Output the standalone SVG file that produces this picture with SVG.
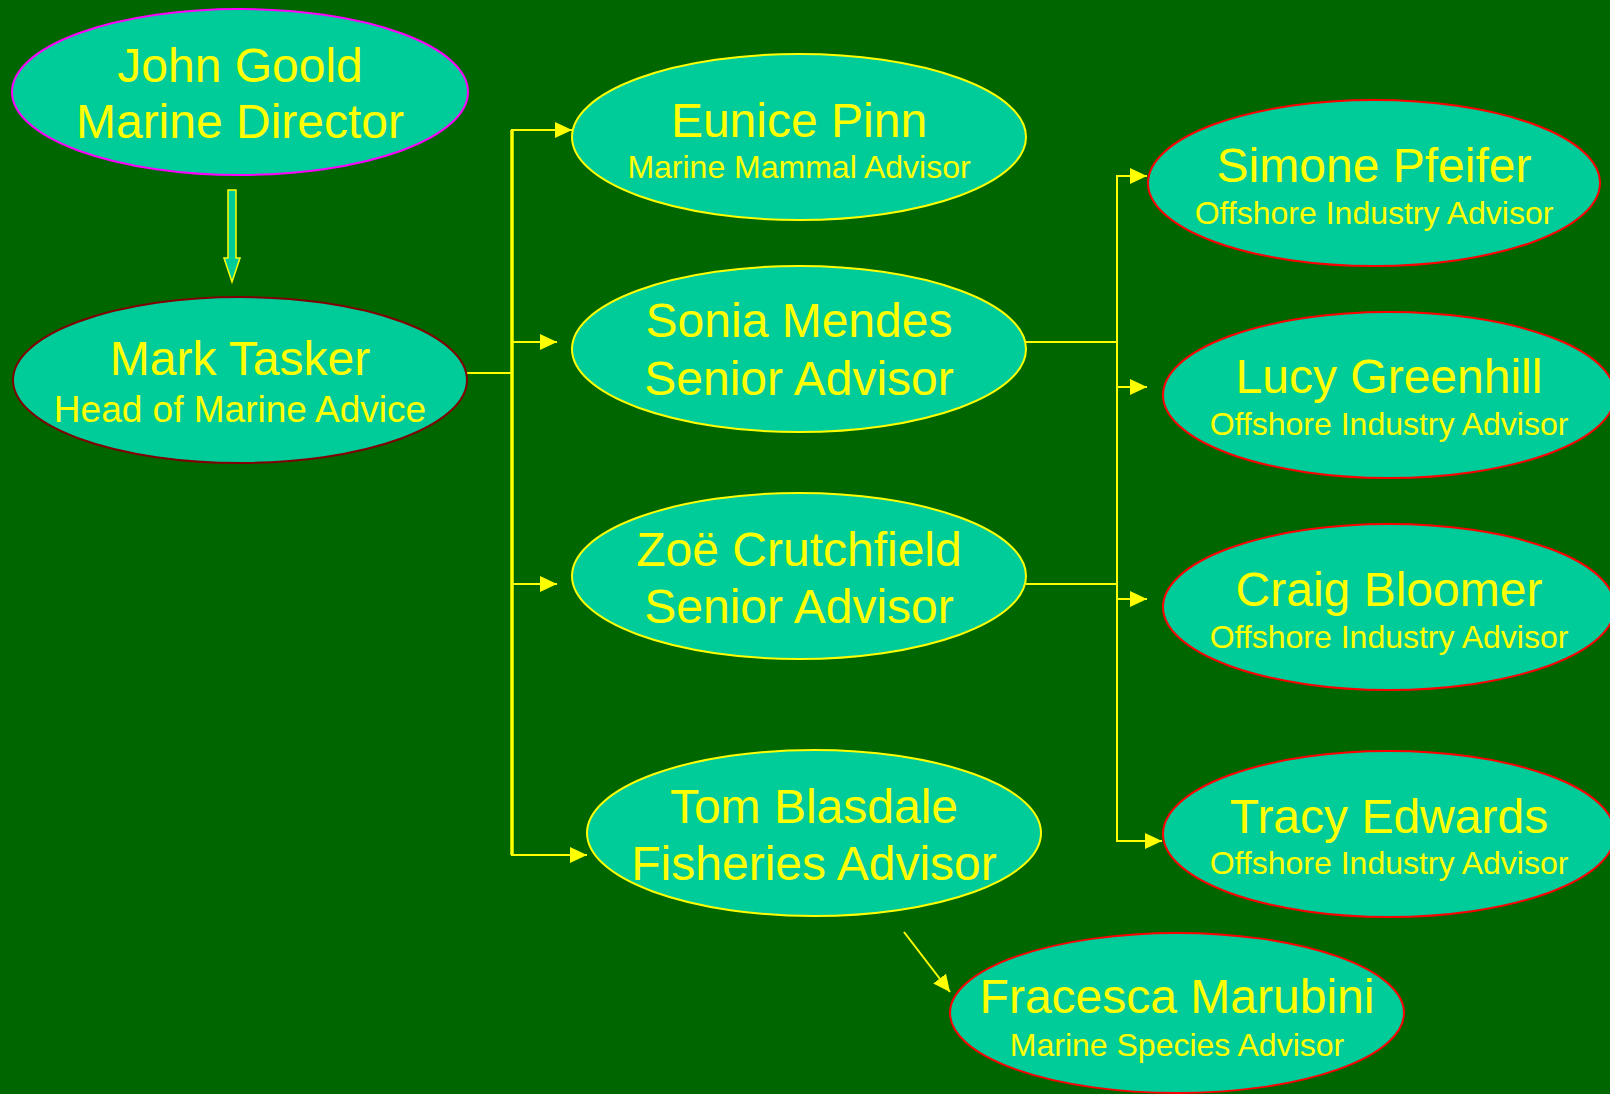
<svg xmlns="http://www.w3.org/2000/svg" width="1610" height="1094" viewBox="0 0 1610 1094">
<style>
.bg{fill:#006600}
.node{fill:#00CC99;stroke-width:2}
.y{stroke:#FFFF00}
.r{stroke:#FF0000}
.m{stroke:#FF00FF}
.dr{stroke:#800000}
text{font-family:"Liberation Sans",Arial,sans-serif;fill:#FFFF00;text-anchor:middle}
.big{font-size:48px}
.sub{font-size:32px}
.sub36{font-size:37px}
.con{stroke:#FFFF00;stroke-width:2;fill:none}
.trunk{stroke:#FFFF00;stroke-width:3.5;fill:none}
</style>
<defs>
<marker id="arr" markerUnits="userSpaceOnUse" markerWidth="17" markerHeight="16" refX="17" refY="8" orient="auto">
<path d="M0,0 L17,8 L0,16 z" fill="#FFFF00"/>
</marker>
</defs>
<rect class="bg" x="0" y="0" width="1610" height="1094"/>
<g id="connectors">
<polygon points="228,190 236,190 236,258 240,258 232,282 224,258 228,258" fill="#00CC99" stroke="#FFFF00" stroke-width="1.5"/>
<line class="con" x1="466" y1="373" x2="512" y2="373"/>
<line class="trunk" x1="512" y1="130" x2="512" y2="855"/>
<line class="con" x1="511" y1="130" x2="572" y2="130" marker-end="url(#arr)"/>
<line class="con" x1="511" y1="342" x2="557" y2="342" marker-end="url(#arr)"/>
<line class="con" x1="511" y1="584" x2="557" y2="584" marker-end="url(#arr)"/>
<line class="con" x1="511" y1="855" x2="587" y2="855" marker-end="url(#arr)"/>
<line class="con" x1="1026" y1="342" x2="1117" y2="342"/>
<line class="con" x1="1026" y1="584" x2="1117" y2="584"/>
<line class="con" x1="1117" y1="175" x2="1117" y2="842"/>
<line class="con" x1="1116" y1="176" x2="1147" y2="176" marker-end="url(#arr)"/>
<line class="con" x1="1116" y1="387" x2="1147" y2="387" marker-end="url(#arr)"/>
<line class="con" x1="1116" y1="599" x2="1147" y2="599" marker-end="url(#arr)"/>
<line class="con" x1="1116" y1="841" x2="1162" y2="841" marker-end="url(#arr)"/>
<line class="con" x1="904" y1="932" x2="950" y2="992" marker-end="url(#arr)"/>
</g>
<g id="john-goold">
<ellipse class="node m" cx="240" cy="92" rx="228" ry="83"/>
<text class="big" x="240" y="82">John Goold</text>
<text class="big" x="240" y="138">Marine Director</text>
</g>
<g id="mark-tasker">
<ellipse class="node dr" cx="240" cy="380" rx="227" ry="83"/>
<text class="big" x="240" y="375">Mark Tasker</text>
<text class="sub36" x="240" y="422">Head of Marine Advice</text>
</g>
<g id="eunice-pinn">
<ellipse class="node y" cx="799" cy="137" rx="227" ry="83"/>
<text class="big" x="799" y="137">Eunice Pinn</text>
<text class="sub" x="799" y="178">Marine Mammal Advisor</text>
</g>
<g id="sonia-mendes">
<ellipse class="node y" cx="799" cy="349" rx="227" ry="83"/>
<text class="big" x="799" y="337">Sonia Mendes</text>
<text class="big" x="799" y="395">Senior Advisor</text>
</g>
<g id="zoe-crutchfield">
<ellipse class="node y" cx="799" cy="576" rx="227" ry="83"/>
<text class="big" x="799" y="566">Zoë Crutchfield</text>
<text class="big" x="799" y="623">Senior Advisor</text>
</g>
<g id="tom-blasdale">
<ellipse class="node y" cx="814" cy="833" rx="227" ry="83"/>
<text class="big" x="814" y="823">Tom Blasdale</text>
<text class="big" x="814" y="880">Fisheries Advisor</text>
</g>
<g id="simone-pfeifer">
<ellipse class="node r" cx="1374" cy="183" rx="226" ry="83"/>
<text class="big" x="1374" y="182">Simone Pfeifer</text>
<text class="sub" x="1374" y="224">Offshore Industry Advisor</text>
</g>
<g id="lucy-greenhill">
<ellipse class="node r" cx="1389" cy="395" rx="226" ry="83"/>
<text class="big" x="1389" y="393">Lucy Greenhill</text>
<text class="sub" x="1389" y="435">Offshore Industry Advisor</text>
</g>
<g id="craig-bloomer">
<ellipse class="node r" cx="1389" cy="607" rx="226" ry="83"/>
<text class="big" x="1389" y="606">Craig Bloomer</text>
<text class="sub" x="1389" y="648">Offshore Industry Advisor</text>
</g>
<g id="tracy-edwards">
<ellipse class="node r" cx="1389" cy="834" rx="226" ry="83"/>
<text class="big" x="1389" y="833">Tracy Edwards</text>
<text class="sub" x="1389" y="874">Offshore Industry Advisor</text>
</g>
<g id="fracesca-marubini">
<ellipse class="node r" cx="1177" cy="1013" rx="227" ry="80"/>
<text class="big" x="1177" y="1013">Fracesca Marubini</text>
<text class="sub" x="1177" y="1056">Marine Species Advisor</text>
</g>
</svg>
